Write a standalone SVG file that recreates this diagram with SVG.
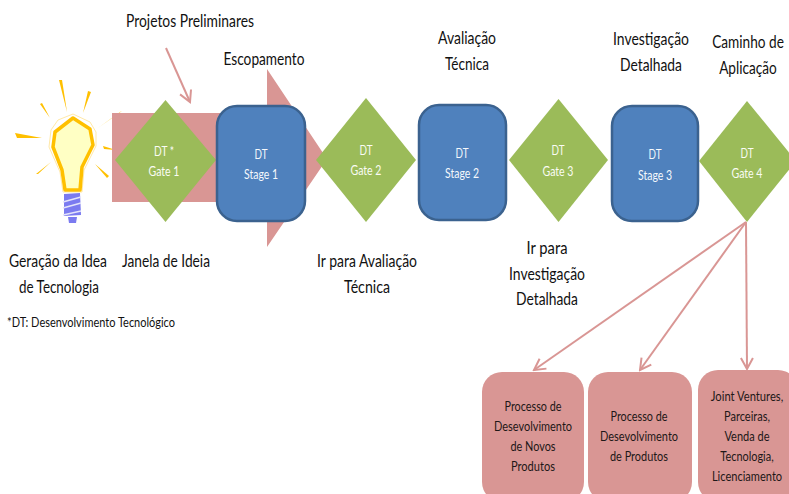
<svg xmlns="http://www.w3.org/2000/svg" width="789" height="494" viewBox="0 0 789 494">
<style>
text{font-family:"Lato","Liberation Sans",sans-serif;text-anchor:middle}
.l{font-size:17.500px;fill:#111}
.w{font-size:14px;fill:#fafcf4}
.b{font-size:14px;fill:#f5f8fc}
.p{font-size:14px;fill:#1e1818}
.gate{fill:#9bbb59}
.stage{fill:#4f81bd;stroke:#3b628f;stroke-width:2.5}
.box{fill:#d99694}
.line{fill:none;stroke:#d99694;stroke-width:2}
</style>
<defs>
<marker id="arr" viewBox="0 0 14 14" refX="12" refY="7" markerWidth="14" markerHeight="14" markerUnits="userSpaceOnUse" orient="auto"><path d="M1 1L12 7L1 13" fill="none" stroke="#d99694" stroke-width="2"/></marker>
</defs>
<rect width="789" height="494" fill="#fff"/>
<g id="bulb">
<g fill="#ffc000">
<path d="M59 80L62 80L67 112Z"/><path d="M91 92L88 91L83 113Z"/><path d="M40 104L42 103L50 118Z"/><path d="M15 133L17 138L42 138Z"/><path d="M36 174L38 174L51 162Z"/><path d="M122 111L120 112L98 128Z"/><path d="M103 146L104 149L116 150Z"/><path d="M109 176L107 178L95 164Z"/>
</g>
<path d="M73 114L90 122L96 132L96 146L84 170L82 192L63 192L60 172L49 147L51 130L58 120Z" fill="none" stroke="#ffe9a8" stroke-width="1"/>
<path d="M73 118L90 129L93 145L82 167L80 190L65 190L62 170L53 147L55 132Z" fill="#ffffc4" stroke="#ffc000" stroke-width="3.500" stroke-linejoin="round"/>
<path d="M64 194L80 193L81 215L64 216Z" fill="#7b7bf0"/>
<path d="M63 202L81 197M63 208L81 203M63 215L81 211" stroke="#e4e4fa" stroke-width="1.500"/>
<path d="M68 217L77 217L76 223L69 223Z" fill="#7b7bf0"/>
</g>
<g id="main-arrow"><path class="box" d="M112 113H267V69L327 159L267 247V202H112Z"/></g>
<g id="connectors">
<path class="line" d="M166 48L190 102" marker-end="url(#arr)"/>
<path class="line" d="M746 222L534 370" marker-end="url(#arr)"/>
<path class="line" d="M746 222L640 370" marker-end="url(#arr)"/>
<path class="line" d="M746 222L747 369" marker-end="url(#arr)"/>
</g>
<g id="gate1"><path class="gate" d="M165.500 100L216 160L165.500 222L115 160Z"/><text class="w" x="164" y="156" textLength="20" lengthAdjust="spacingAndGlyphs">DT *</text><text class="w" x="164" y="176" textLength="31" lengthAdjust="spacingAndGlyphs">Gate 1</text></g>
<g id="stage1"><rect class="stage" x="217" y="106" width="88" height="115" rx="20"/><text class="b" x="261" y="159" textLength="13" lengthAdjust="spacingAndGlyphs">DT</text><text class="b" x="261" y="179" textLength="34" lengthAdjust="spacingAndGlyphs">Stage 1</text></g>
<g id="gate2"><path class="gate" d="M366 98L416 160L366 222L316 160Z"/><text class="w" x="366" y="155" textLength="13" lengthAdjust="spacingAndGlyphs">DT</text><text class="w" x="366" y="175" textLength="31" lengthAdjust="spacingAndGlyphs">Gate 2</text></g>
<g id="stage2"><rect class="stage" x="419" y="105" width="87" height="115" rx="20"/><text class="b" x="462" y="158" textLength="13" lengthAdjust="spacingAndGlyphs">DT</text><text class="b" x="462" y="178" textLength="34" lengthAdjust="spacingAndGlyphs">Stage 2</text></g>
<g id="gate3"><path class="gate" d="M558.500 99L608 160L558.500 222L509 160Z"/><text class="w" x="558" y="155" textLength="13" lengthAdjust="spacingAndGlyphs">DT</text><text class="w" x="558" y="176" textLength="31" lengthAdjust="spacingAndGlyphs">Gate 3</text></g>
<g id="stage3"><rect class="stage" x="612" y="106" width="86" height="115" rx="20"/><text class="b" x="655" y="159" textLength="13" lengthAdjust="spacingAndGlyphs">DT</text><text class="b" x="655" y="180" textLength="34" lengthAdjust="spacingAndGlyphs">Stage 3</text></g>
<g id="gate4"><path class="gate" d="M747 101L796 161L747 222L699 161Z"/><text class="w" x="747" y="158" textLength="13" lengthAdjust="spacingAndGlyphs">DT</text><text class="w" x="747" y="178" textLength="31" lengthAdjust="spacingAndGlyphs">Gate 4</text></g>
<g id="box1"><rect class="box" x="482" y="372" width="102" height="130" rx="20"/><text class="p" x="533" y="411" textLength="57" lengthAdjust="spacingAndGlyphs">Processo de</text><text class="p" x="533" y="431" textLength="78" lengthAdjust="spacingAndGlyphs">Desevolvimento</text><text class="p" x="533" y="451" textLength="45" lengthAdjust="spacingAndGlyphs">de Novos</text><text class="p" x="533" y="471" textLength="44" lengthAdjust="spacingAndGlyphs">Produtos</text></g>
<g id="box2"><rect class="box" x="588" y="372" width="104" height="130" rx="20"/><text class="p" x="639" y="421" textLength="57" lengthAdjust="spacingAndGlyphs">Processo de</text><text class="p" x="639" y="441" textLength="78" lengthAdjust="spacingAndGlyphs">Desevolvimento</text><text class="p" x="639" y="461" textLength="58" lengthAdjust="spacingAndGlyphs">de Produtos</text></g>
<g id="box3"><rect class="box" x="698" y="370" width="100" height="132" rx="20"/><text class="p" transform="translate(747 401) scale(.8 1)">Joint Ventures,</text><text class="p" x="747" y="421" textLength="46" lengthAdjust="spacingAndGlyphs">Parceiras,</text><text class="p" x="747" y="441" textLength="45" lengthAdjust="spacingAndGlyphs">Venda de</text><text class="p" transform="translate(747 461) scale(.78 1)">Tecnologia,</text><text class="p" transform="translate(747 481) scale(.79 1)">Licenciamento</text></g>
<g id="labels">
<text class="l" x="190" y="27" textLength="128" lengthAdjust="spacingAndGlyphs">Projetos Preliminares</text>
<text class="l" x="264" y="65" textLength="81" lengthAdjust="spacingAndGlyphs">Escopamento</text>
<text class="l" x="467" y="44" textLength="58" lengthAdjust="spacingAndGlyphs">Avaliação</text>
<text class="l" x="467" y="70" textLength="44" lengthAdjust="spacingAndGlyphs">Técnica</text>
<text class="l" x="651" y="45" textLength="76" lengthAdjust="spacingAndGlyphs">Investigação</text>
<text class="l" x="651" y="71" textLength="62" lengthAdjust="spacingAndGlyphs">Detalhada</text>
<text class="l" transform="translate(748 48) scale(.78 1)">Caminho de</text>
<text class="l" transform="translate(748 74) scale(.78 1)">Aplicação</text>
<text class="l" x="58" y="267" textLength="98" lengthAdjust="spacingAndGlyphs">Geração da Idea</text>
<text class="l" x="59" y="293" textLength="80" lengthAdjust="spacingAndGlyphs">de Tecnologia</text>
<text class="l" x="166" y="267" textLength="88" lengthAdjust="spacingAndGlyphs">Janela de Ideia</text>
<text class="l" x="367" y="267" textLength="100" lengthAdjust="spacingAndGlyphs">Ir para Avaliação</text>
<text class="l" x="367" y="293" textLength="46" lengthAdjust="spacingAndGlyphs">Técnica</text>
<text class="l" x="547" y="254" textLength="41" lengthAdjust="spacingAndGlyphs">Ir para</text>
<text class="l" x="547" y="280" textLength="76" lengthAdjust="spacingAndGlyphs">Investigação</text>
<text class="l" x="547" y="305" textLength="62" lengthAdjust="spacingAndGlyphs">Detalhada</text>
<text x="91" y="327" font-size="13.500" fill="#111" textLength="168" lengthAdjust="spacingAndGlyphs">*DT: Desenvolvimento Tecnológico</text>
</g>
</svg>
